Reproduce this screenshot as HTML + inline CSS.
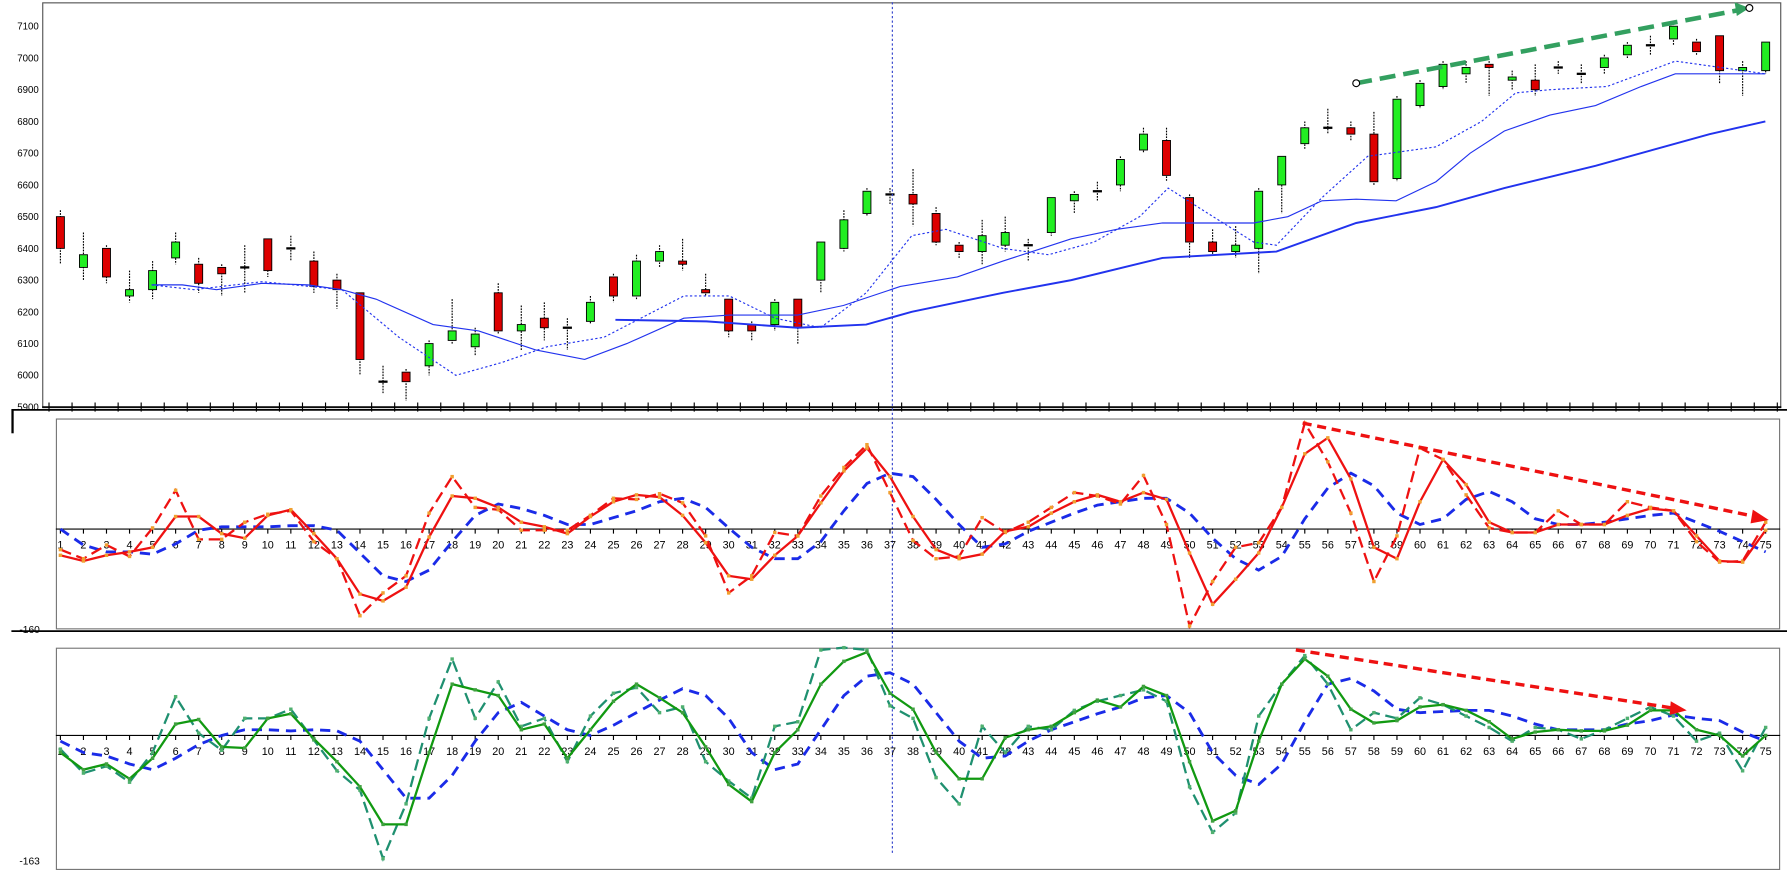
<!DOCTYPE html>
<html><head><meta charset="utf-8"><style>html,body{margin:0;padding:0;background:#fff;overflow:hidden}svg{display:block}</style></head>
<body>
<svg id="s" xmlns="http://www.w3.org/2000/svg" width="1787" height="870" viewBox="0 0 1568 763" preserveAspectRatio="none" font-family="Liberation Sans, sans-serif"></svg>
<script>
const s=document.getElementById('s');let h='';
const X=i=>53+(i-1)*20.22;
const Y=p=>357-(p-5900)*0.27833;
h+='<rect x="0" y="0" width="1568" height="763" fill="#fff"/>';
h+='<rect x="37.5" y="2.5" width="1525" height="355" fill="none" stroke="#555"/>';
h+='<line x1="10" y1="359.5" x2="1568" y2="359.5" stroke="#000" stroke-width="1.5"/>';
h+='<line x1="11" y1="360" x2="11" y2="380" stroke="#000" stroke-width="2"/>';
h+='<rect x="49.5" y="367.5" width="1512" height="184" fill="none" stroke="#777"/>';
h+='<line x1="10" y1="553.5" x2="1568" y2="553.5" stroke="#000" stroke-width="1.5"/>';
h+='<rect x="49.5" y="568.5" width="1512" height="194" fill="none" stroke="#777"/>';
h+='<line x1="37" y1="357" x2="1563" y2="357" stroke="#000" stroke-width="1.5"/>';
for(let p=5900;p<=7100;p+=100){h+=`<text x="34" y="${Y(p)+3}" font-size="8.5" text-anchor="end">${p}</text>`;}
for(let i=0;i<=76;i++){const x=43+i*20.22;h+=`<line x1="${x}" y1="353" x2="${x}" y2="361" stroke="#000"/>`;}
h+='<text x="35" y="555" font-size="9" text-anchor="end">-160</text>';
h+='<text x="35" y="758" font-size="9" text-anchor="end">-163</text>';
const C=[[6500,6400,6520,6350],[6340,6380,6450,6300],[6400,6310,6410,6290],[6250,6270,6330,6230],[6270,6330,6360,6240],[6370,6420,6450,6350],[6350,6290,6370,6260],[6340,6320,6350,6250],[6340,6340,6410,6260],[6430,6330,6430,6310],[6400,6400,6440,6360],[6360,6280,6390,6260],[6300,6270,6320,6210],[6260,6050,6260,6000],[5980,5980,6030,5940],[6010,5980,6020,5920],[6030,6100,6110,6000],[6110,6140,6240,6100],[6090,6130,6150,6060],[6260,6140,6290,6130],[6140,6160,6220,6080],[6180,6150,6230,6110],[6150,6150,6180,6080],[6170,6230,6250,6160],[6310,6250,6320,6230],[6250,6360,6380,6240],[6360,6390,6410,6340],[6360,6350,6430,6330],[6270,6260,6320,6250],[6240,6140,6240,6120],[6160,6140,6170,6110],[6160,6230,6240,6140],[6240,6150,6240,6100],[6300,6420,6420,6260],[6400,6490,6520,6390],[6510,6580,6590,6500],[6570,6570,6590,6540],[6570,6540,6650,6470],[6510,6420,6530,6410],[6410,6390,6420,6370],[6390,6440,6490,6350],[6410,6450,6500,6390],[6410,6410,6430,6360],[6450,6560,6560,6440],[6550,6570,6580,6510],[6580,6580,6610,6550],[6600,6680,6690,6580],[6710,6760,6780,6700],[6740,6630,6780,6610],[6560,6420,6570,6370],[6420,6390,6460,6380],[6390,6410,6470,6370],[6400,6580,6590,6320],[6600,6690,6690,6510],[6730,6780,6800,6710],[6780,6780,6840,6760],[6780,6760,6800,6740],[6760,6610,6830,6600],[6620,6870,6880,6610],[6850,6920,6930,6840],[6910,6980,6990,6900],[6950,6970,6990,6920],[6980,6970,6990,6880],[6930,6940,6960,6900],[6930,6900,6980,6880],[6970,6970,6990,6950],[6950,6950,6980,6920],[6970,7000,7010,6950],[7010,7040,7050,7000],[7040,7040,7070,7010],[7060,7100,7110,7040],[7050,7020,7060,7010],[7070,6960,7070,6920],[6960,6970,6990,6880],[6960,7050,7050,6950]];
C.forEach((c,k)=>{const x=X(k+1);const[o,cl,hi,lo]=c;
h+=`<line x1="${x}" y1="${Y(hi)}" x2="${x}" y2="${Y(lo)}" stroke="#000" stroke-dasharray="1.5,1"/>`;
if(o==cl){h+=`<line x1="${x-4}" y1="${Y(o)}" x2="${x+4}" y2="${Y(o)}" stroke="#000" stroke-width="2"/>`;}
else{const t=Y(Math.max(o,cl)),b=Y(Math.min(o,cl));h+=`<rect x="${x-3.5}" y="${t}" width="7" height="${Math.max(b-t,2)}" fill="${cl>o?'#22ee22':'#dd0000'}" stroke="#000" stroke-width="0.8"/>`;}});
const pl=(pts,st)=>`<polyline points="${pts.map(p=>p.join(',')).join(' ')}" fill="none" ${st}/>`;
const P=a=>a.map(([x,p])=>[x,Y(p)]);
h+=pl(P([[133,6285],[160,6285],[190,6270],[230,6290],[270,6285],[300,6270],[330,6240],[380,6160],[420,6140],[470,6080],[513,6050],[550,6100],[600,6180],[640,6190],[700,6190],[740,6220],[790,6280],[840,6310],[880,6360],[940,6430],[980,6460],[1020,6480],[1100,6480],[1130,6500],[1160,6550],[1190,6555],[1225,6550],[1260,6610],[1290,6700],[1320,6770],[1360,6820],[1400,6850],[1440,6910],[1470,6950],[1549,6950]]),'stroke="#2233ee" stroke-width="1"');
h+=pl(P([[540,6175],[620,6170],[700,6150],[760,6160],[800,6200],[880,6260],[940,6300],[1020,6370],[1120,6390],[1190,6480],[1260,6530],[1320,6590],[1400,6660],[1460,6720],[1500,6760],[1549,6800]]),'stroke="#2233ee" stroke-width="1.7"');
h+=pl(P([[133,6285],[170,6270],[230,6295],[300,6270],[350,6120],[400,6000],[440,6040],[480,6090],[530,6120],[600,6250],[640,6250],[680,6180],[720,6150],[760,6260],[800,6440],[830,6460],[880,6400],[920,6380],[960,6420],[1000,6500],[1025,6590],[1060,6510],[1100,6420],[1120,6410],[1160,6560],[1200,6690],[1260,6720],[1300,6800],[1330,6890],[1360,6900],[1410,6910],[1470,6990],[1510,6970],[1549,6950]]),'stroke="#2233ee" stroke-width="1" stroke-dasharray="2,2"');
h+='<line x1="1190" y1="73" x2="1525" y2="9" stroke="#33a060" stroke-width="4" stroke-dasharray="14,7"/><polygon points="1535,7 1522,2 1524,14" fill="#33a060"/><circle cx="1190" cy="73" r="3" fill="#fff" stroke="#000"/><circle cx="1535" cy="7" r="3" fill="#fff" stroke="#000"/>';
h+='<line x1="783" y1="2" x2="783" y2="750" stroke="#3344cc" stroke-dasharray="2,2"/>';
const pan=(z,sets)=>{h+=`<line x1="49" y1="${z}" x2="1562" y2="${z}" stroke="#000"/>`;for(let i=1;i<=75;i++){const x=X(i);h+=`<line x1="${x}" y1="${z}" x2="${x}" y2="${z+4}" stroke="#000"/><text x="${x}" y="${z+17}" font-size="9.5" text-anchor="middle">${i}</text>`;}
sets.forEach(([a,st,dot])=>{h+=pl(a.map((y,k)=>[X(k+1),y]),st);if(dot)a.forEach((y,k)=>h+=`<rect x="${X(k+1)-1.5}" y="${y-1.5}" width="3" height="3" fill="${dot}"/>`);});};
pan(464,[
[[464,478,484,484,486,477,465,462,462,462,461,461,465,485,505,510,500,475,452,442,446,452,460,460,454,448,440,437,445,463,480,490,490,475,448,424,415,418,438,460,480,477,466,458,450,443,440,437,437,450,472,490,500,488,455,428,415,426,450,460,455,438,431,440,455,460,460,458,455,452,450,458,466,475,484],'stroke="#1a2be8" stroke-width="2.5" stroke-dasharray="9,6"'],
[[482,490,478,488,463,430,473,473,458,451,448,475,490,540,520,505,450,418,445,447,465,465,465,452,437,438,433,441,470,520,505,467,470,435,410,390,432,474,490,488,454,467,458,445,432,435,442,417,460,549,510,480,476,445,371,405,450,510,470,393,403,434,463,467,467,448,460,460,440,445,448,475,493,492,458],'stroke="#ee1111" stroke-width="2" stroke-dasharray="10,5"','#f0a030'],
[[487,492,487,484,480,453,453,468,472,452,447,468,490,521,527,515,471,435,437,445,458,462,468,453,440,434,436,452,476,505,508,487,470,441,413,393,418,453,482,490,486,466,462,450,440,434,440,432,438,485,530,508,485,445,398,384,420,480,490,440,403,425,458,467,467,460,460,460,452,446,448,470,492,493,465],'stroke="#ee1111" stroke-width="2"','#f0a030']]);
h+='<line x1="1143" y1="371" x2="1540" y2="453" stroke="#ee1111" stroke-width="3" stroke-dasharray="8,5"/><polygon points="1552,456 1538,447 1536,459" fill="#ee1111"/>';
pan(645,[
[[650,660,663,670,675,665,653,645,640,640,641,640,641,650,675,700,700,680,650,625,616,628,640,645,636,625,614,604,610,630,660,675,670,640,610,593,590,600,625,650,665,663,650,640,633,626,620,612,610,625,660,680,688,670,633,600,595,606,622,625,624,623,623,628,635,640,640,640,635,632,627,630,632,642,650],'stroke="#1a2be8" stroke-width="2.5" stroke-dasharray="9,6"'],
[[657,678,672,686,660,611,643,658,630,630,622,649,676,693,753,705,630,578,630,598,637,630,668,628,608,603,625,620,668,685,700,637,633,570,568,570,619,630,682,705,637,660,637,640,623,615,610,605,615,690,730,713,628,600,575,600,640,625,630,612,618,628,638,650,638,640,648,640,630,620,628,650,643,676,638],'stroke="#1f9070" stroke-width="2" stroke-dasharray="10,5"','#50b070'],
[[660,675,670,683,665,635,631,655,656,630,626,648,668,690,723,723,660,600,605,610,640,635,665,640,615,600,612,625,655,688,703,660,640,600,580,572,608,622,660,683,683,647,640,637,625,614,620,602,610,668,720,711,650,600,578,593,622,634,632,620,618,623,633,648,642,640,641,641,636,623,623,640,645,663,645],'stroke="#119911" stroke-width="2"','#40a040']]);
h+='<line x1="1137" y1="570" x2="1468" y2="621" stroke="#ee1111" stroke-width="3" stroke-dasharray="8,5"/><polygon points="1480,623 1466,615 1465,627" fill="#ee1111"/>';
s.innerHTML=h;
</script>
</body></html>
